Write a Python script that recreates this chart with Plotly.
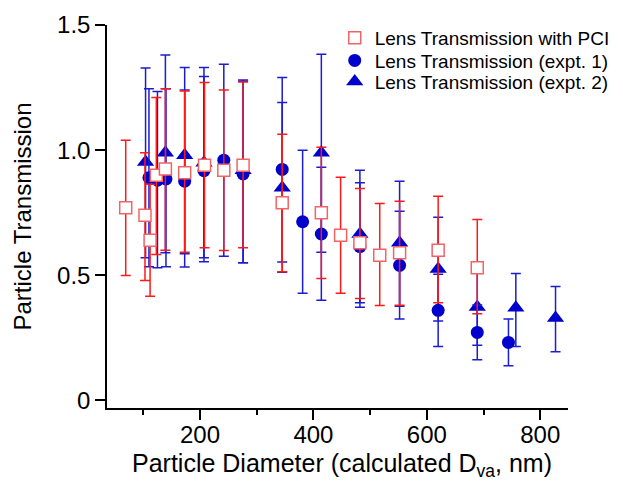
import numpy as np
import plotly.graph_objects as go

# ---- data ----
pci_d = [69, 103, 112, 123, 139, 173, 208, 242, 276, 345, 414, 448, 482, 517, 552, 620, 689]
pci_v = [0.77, 0.74, 0.64, 0.90, 0.925, 0.91, 0.94, 0.92, 0.94, 0.79, 0.75, 0.66, 0.63, 0.58, 0.59, 0.60, 0.53]
pci_hi = [1.04, 0.99, 0.864, 1.21, 1.245, 1.236, 1.27, 1.24, 1.272, 1.064, 1.012, 0.892, 0.847, 0.787, 0.796, 0.816, 0.723]
pci_lo = [0.499, 0.479, 0.416, 0.583, 0.60, 0.592, 0.61, 0.599, 0.61, 0.514, 0.487, 0.428, 0.407, 0.379, 0.38, 0.39, 0.347]

e1_d = [110, 125, 140, 173, 207, 242, 276, 345, 381, 414, 482, 552, 620, 689, 744]
e1_v = [0.89, 0.88, 0.885, 0.876, 0.918, 0.96, 0.905, 0.923, 0.714, 0.665, 0.615, 0.54, 0.36, 0.272, 0.232]
e1_hi = [1.245, 1.234, 1.245, 1.24, 1.294, 1.343, 1.275, 1.29, 1.0, 0.932, 0.87, 0.756, 0.504, 0.381, 0.326]
e1_lo = [0.534, 0.53, 0.534, 0.533, 0.554, 0.576, 0.55, 0.553, 0.428, 0.40, 0.372, 0.326, 0.216, 0.163, 0.139]

e2_d = [104, 139, 173, 207, 276, 345, 414, 482, 552, 620, 689, 757, 827]
e2_v = [0.953, 0.99, 0.98, 0.95, 0.92, 0.85, 0.99, 0.665, 0.63, 0.525, 0.373, 0.37, 0.33]
e2_hi = [1.328, 1.38, 1.33, 1.33, 1.28, 1.19, 1.383, 0.92, 0.876, 0.732, 0.525, 0.507, 0.455]
e2_lo = [0.57, 0.59, 0.586, 0.57, 0.55, 0.512, 0.592, 0.39, 0.376, 0.318, 0.221, 0.216, 0.195]

y_ticks = [0, 0.5, 1.0, 1.5]
y_ticktext = ["0", "0.5", "1.0", "1.5"]
x_ticks = [200, 400, 600, 800]
x_title = "Particle Diameter (calculated D<sub>va</sub>, nm)"
y_title = "Particle Transmission"

FONT = "Liberation Sans, Arial, Helvetica, sans-serif"
BLUE = "#0000cc"
BLUE_ERR = "#1c1cd0"
RED_ERR = "#ff1a1a"
SQ_LINE = "#f06464"


def errs(v, hi, lo):
    v = np.asarray(v)
    return dict(type="data", symmetric=False,
                array=np.asarray(hi) - v, arrayminus=v - np.asarray(lo),
                thickness=1.5, width=5)


fig = go.Figure()

ey2 = errs(e2_v, e2_hi, e2_lo)
ey2["color"] = BLUE_ERR
fig.add_trace(go.Scatter(
    x=e2_d, y=e2_v, mode="markers", name="Lens Transmission (expt. 2)",
    marker=dict(symbol="triangle-up", size=15, color=BLUE),
    error_y=ey2, legend="legend3", showlegend=True))

ey1 = errs(e1_v, e1_hi, e1_lo)
ey1["color"] = BLUE_ERR
fig.add_trace(go.Scatter(
    x=e1_d, y=e1_v, mode="markers", name="Lens Transmission (expt. 1)",
    marker=dict(symbol="circle", size=13, color=BLUE),
    error_y=ey1, legend="legend2", showlegend=True))

eyp = errs(pci_v, pci_hi, pci_lo)
eyp["color"] = RED_ERR
fig.add_trace(go.Scatter(
    x=pci_d, y=pci_v, mode="markers", name="Lens Transmission with PCI",
    marker=dict(symbol="square", size=12, color="white",
                line=dict(color=SQ_LINE, width=1.5)),
    error_y=eyp, legend="legend", showlegend=True))

leg_common = dict(xanchor="left", yanchor="middle", bgcolor="rgba(0,0,0,0)",
                  font=dict(family=FONT, size=19, color="black"))
LX = 0.494

fig.update_layout(
    width=623, height=484,
    showlegend=True,
    margin=dict(l=107, r=55, t=25, b=76, autoexpand=False),
    paper_bgcolor="white", plot_bgcolor="white",
    font=dict(family=FONT, color="black"),
    legend=dict(x=LX, y=0.966, **leg_common),
    legend2=dict(x=LX, y=0.907, **leg_common),
    legend3=dict(x=LX, y=0.852, **leg_common),
    xaxis=dict(
        range=[36, 849], showgrid=False, zeroline=False, automargin=False,
        showline=True, linecolor="black", linewidth=1.5,
        ticks="outside", ticklen=10, tickwidth=1.5, tickcolor="black",
        tickvals=x_ticks, tickfont=dict(family=FONT, size=24, color="black"),
        ticklabelstandoff=-6,
        minor=dict(dtick=100, tick0=100, ticks="outside", ticklen=5,
                   tickwidth=1.5, tickcolor="black"),
    ),
    yaxis=dict(
        range=[-0.03, 1.5], showgrid=False, zeroline=False, automargin=False,
        showline=True, linecolor="black", linewidth=1.5,
        ticks="outside", ticklen=10, tickwidth=1.5, tickcolor="black",
        tickvals=y_ticks, ticktext=y_ticktext,
        tickfont=dict(family=FONT, size=24, color="black"),
        title=dict(text=y_title,
                   font=dict(family=FONT, size=24, color="black"), standoff=19),
    ),
    annotations=[dict(
        text=x_title, xref="paper", yref="paper", x=0.51, y=-0.196,
        xanchor="center", yanchor="bottom", showarrow=False,
        font=dict(family=FONT, size=25, color="black"))],
)

fig.write_html("out.html")
